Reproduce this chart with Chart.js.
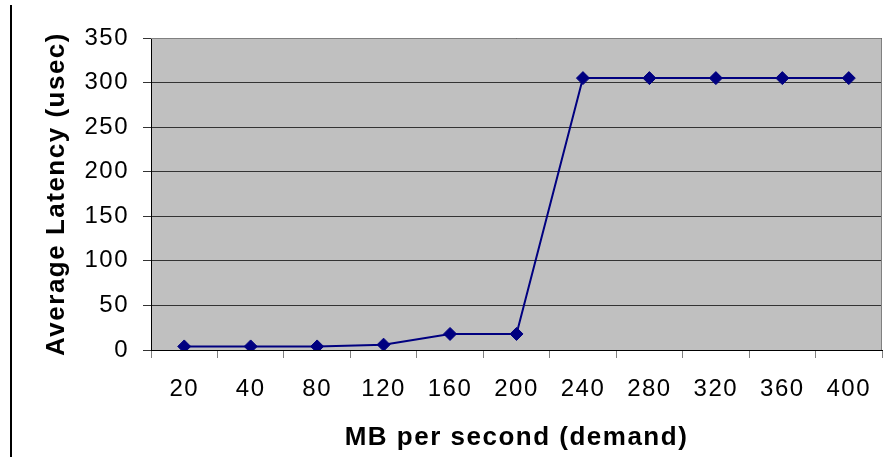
<!DOCTYPE html>
<html>
<head>
<meta charset="utf-8">
<script src="https://cdn.jsdelivr.net/npm/chart.js@4/dist/chart.umd.min.js"></script>
<style>
  html, body { margin: 0; padding: 0; background: #fff; }
  #wrap { width: 896px; height: 457px; }
</style>
</head>
<body>
<div id="wrap"><canvas id="latencyChart" width="896" height="457"></canvas></div>
<script>
// demand levels (MB per second) and measured average latency (usec)
const demandLabels = ['20', '40', '80', '120', '160', '200', '240', '280', '320', '360', '400'];
const avgLatency = [4, 4, 4, 6, 18, 18, 305, 305, 305, 305, 305];

// the old chart's text is a bit stretched, widen it with letter spacing
const wideText = {
  id: 'wideText',
  beforeUpdate(chart) { chart.ctx.letterSpacing = '1.5px'; },
  beforeDraw(chart) { chart.ctx.letterSpacing = '1.5px'; }
};

// gray plot area, gray frame, and the stray left border line
const plotBackground = {
  id: 'plotBackground',
  beforeDraw(chart) {
    const { ctx, chartArea: a } = chart;
    ctx.save();
    ctx.fillStyle = '#c0c0c0';
    ctx.fillRect(a.left, a.top, a.right - a.left, a.bottom - a.top);
    ctx.strokeStyle = '#000';
    ctx.lineWidth = 2;
    ctx.beginPath();
    ctx.moveTo(11, 5);
    ctx.lineTo(11, 457);
    ctx.stroke();
    ctx.restore();
  },
  afterDatasetsDraw(chart) {
    const { ctx, chartArea: a } = chart;
    ctx.save();
    ctx.strokeStyle = '#808080';
    ctx.lineWidth = 1;
    ctx.beginPath();
    ctx.moveTo(a.left, a.top + 0.5);
    ctx.lineTo(a.right - 0.5, a.top + 0.5);
    ctx.lineTo(a.right - 0.5, a.bottom);
    ctx.stroke();
    ctx.restore();
  }
};

new Chart(document.getElementById('latencyChart').getContext('2d'), {
  type: 'line',
  data: {
    labels: demandLabels,
    datasets: [{
      label: 'Average Latency',
      data: avgLatency,
      borderColor: '#000080',
      backgroundColor: '#000080',
      borderWidth: 2,
      pointStyle: 'rectRot',
      pointRadius: 6.5,
      pointBorderWidth: 1,
      tension: 0
    }]
  },
  options: {
    responsive: false,
    animation: false,
    layout: { padding: { left: 0, right: 14, top: 38, bottom: 0 } },
    plugins: {
      legend: { display: false },
      tooltip: { enabled: false }
    },
    scales: {
      x: {
        offset: true,
        grid: {
          offset: true,
          drawOnChartArea: false,
          drawTicks: true,
          tickLength: 8,
          color: '#808080'
        },
        border: { color: '#000', width: 1 },
        ticks: {
          color: '#000',
          font: { family: 'Liberation Sans', size: 24 },
          padding: 17,
          maxRotation: 0,
          autoSkip: false
        },
        title: {
          display: true,
          text: 'MB per second (demand)',
          color: '#000',
          font: { family: 'Liberation Sans', size: 26, weight: 'bold' },
          padding: { top: 10, bottom: 4 }
        },
        afterFit(scale) { scale.height = 107; }
      },
      y: {
        min: 0,
        max: 350,
        ticks: {
          stepSize: 50,
          color: '#000',
          font: { family: 'Liberation Sans', size: 24 },
          padding: 14
        },
        grid: {
          color: '#333',
          tickLength: 8,
          drawTicks: true
        },
        border: { color: '#000', width: 1 },
        title: {
          display: true,
          text: 'Average Latency (usec)',
          color: '#000',
          font: { family: 'Liberation Sans', size: 26, weight: 'bold' },
          padding: { top: 41, bottom: 4 }
        },
        afterFit(scale) { scale.width = 151; }
      }
    }
  },
  plugins: [wideText, plotBackground]
});
</script>
</body>
</html>
